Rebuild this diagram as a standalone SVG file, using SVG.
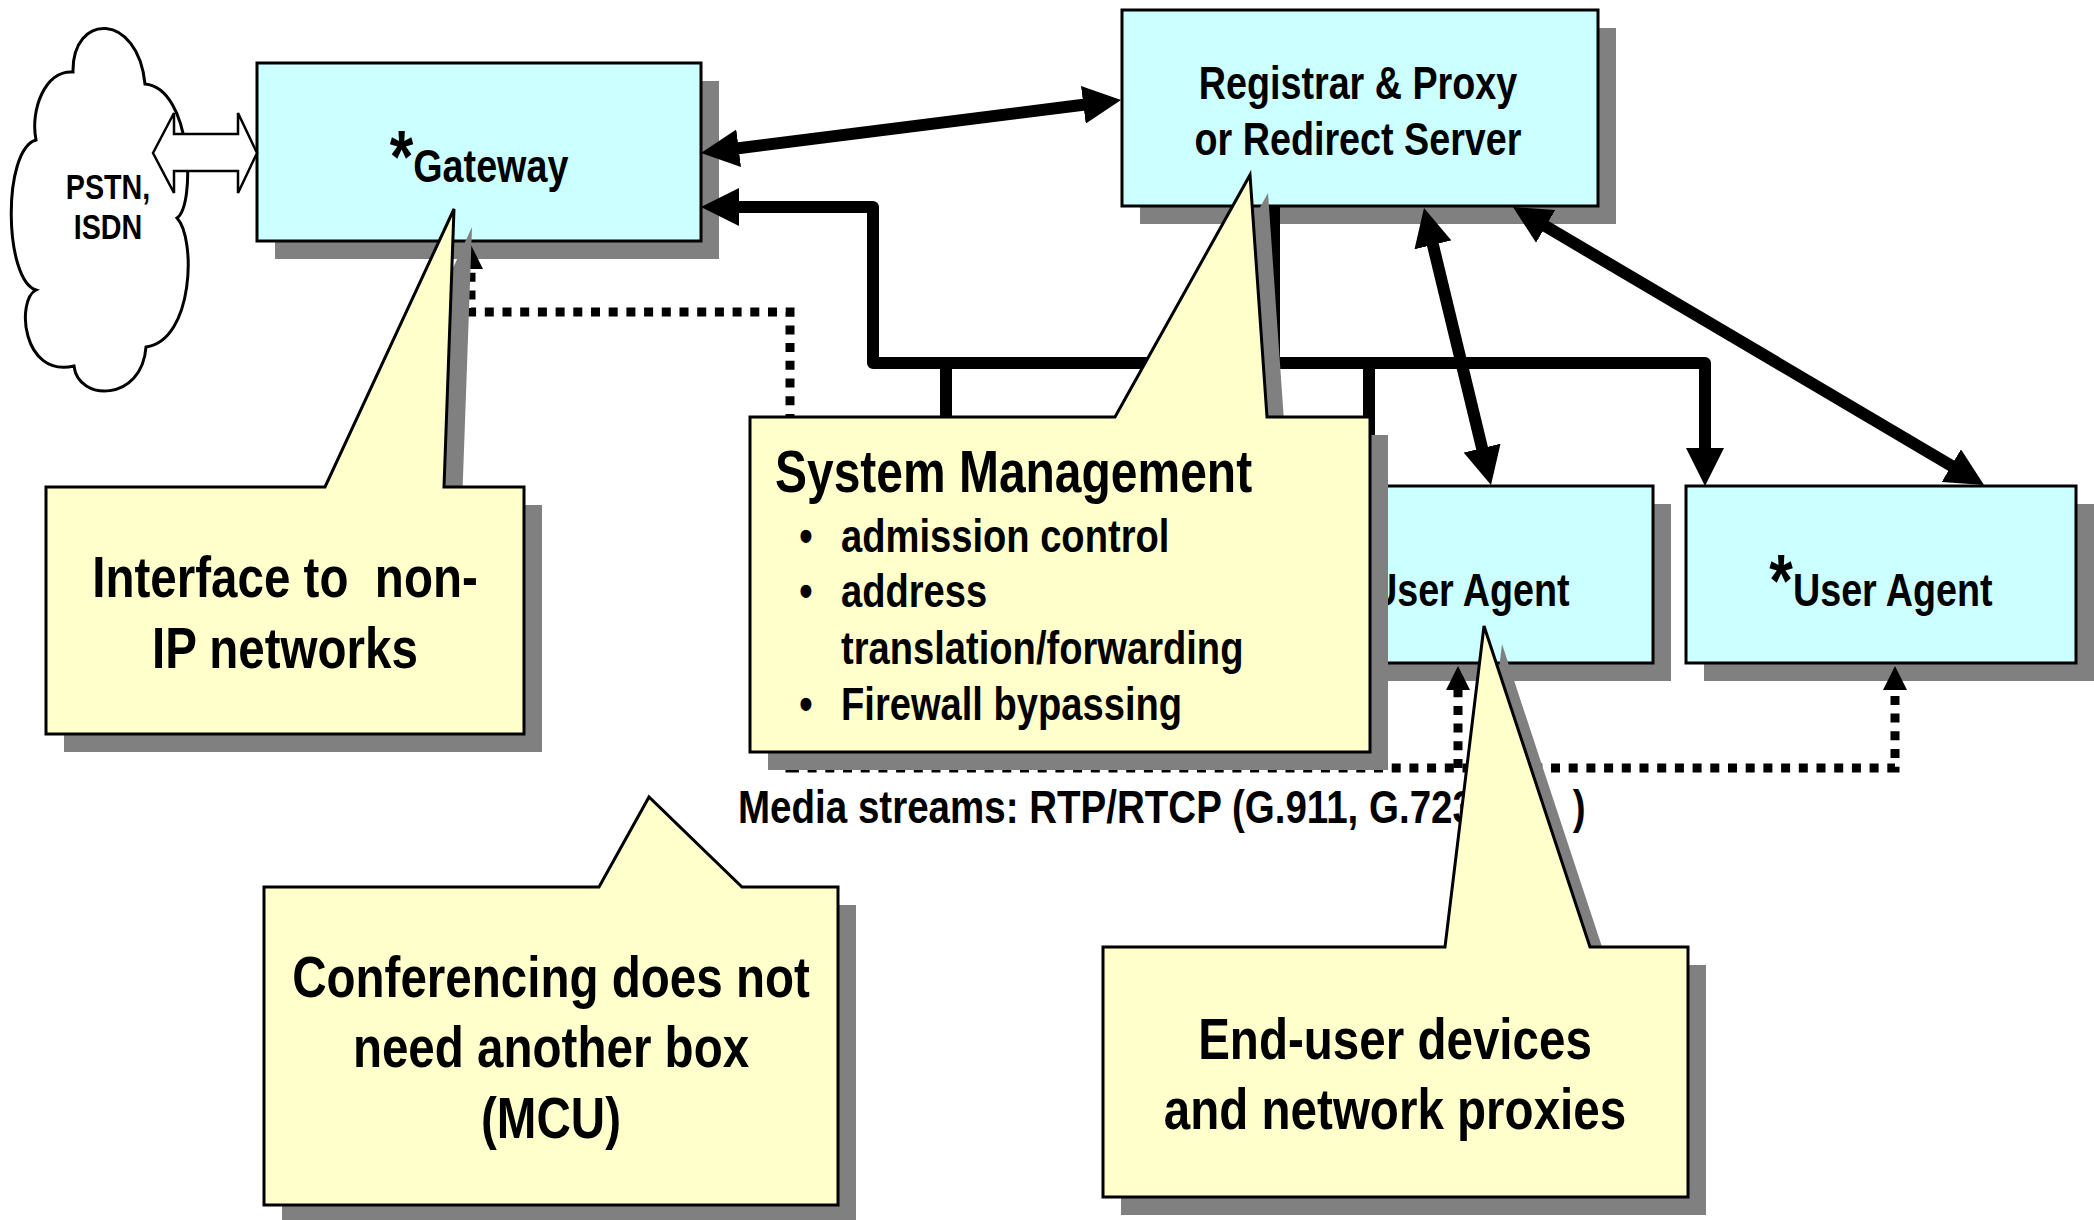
<svg xmlns="http://www.w3.org/2000/svg" xmlns:xlink="http://www.w3.org/1999/xlink" width="2094" height="1220" viewBox="0 0 2094 1220">
  <defs>
    <style>
      .box { fill: #CCFFFF; stroke: #000; stroke-width: 3; }
      .note { fill: #FFFFCC; stroke: #000; stroke-width: 3; stroke-linejoin: miter; }
      .shadow { fill: #808080; stroke: none; }
      .cloud { fill: #FFFFFF; stroke: #000; stroke-width: 3; }
      .lbl { font-family: "Liberation Sans", Arial, sans-serif; font-weight: bold; fill: #000; }
      .link { fill: none; stroke: #000; stroke-width: 12; stroke-linejoin: round; }
      .media { fill: none; stroke: #000; stroke-width: 9; stroke-dasharray: 9 8.7; }
      .hollow { fill: #FFFFFF; stroke: #000; stroke-width: 2.5; stroke-linejoin: miter; }
    </style>
    <marker id="ah" viewBox="0 0 38 38" markerUnits="userSpaceOnUse" markerWidth="38" markerHeight="38" refX="18" refY="19" orient="auto-start-reverse">
      <path d="M0,0 L38,19 L0,38 Z" fill="#000"/>
    </marker>
    <marker id="dh" viewBox="0 0 24 24" markerUnits="userSpaceOnUse" markerWidth="24" markerHeight="24" refX="14" refY="12" orient="auto-start-reverse">
      <path d="M0,0 L24,12 L0,24 Z" fill="#000"/>
    </marker>
    <!-- callout outlines: rectangle with a pointer notch in the top edge -->
    <path id="c-gw" d="M46,487 L325,487 L454,209 L444,487 L524,487 L524,734 L46,734 Z"/>
    <path id="c-sys" d="M750,417 L1115,417 L1250,175 L1267,417 L1370,417 L1370,752 L750,752 Z"/>
    <path id="c-conf" d="M264,887 L599,887 L649,797 L742,887 L838,887 L838,1205 L264,1205 Z"/>
    <path id="c-ua" d="M1103,947 L1445,947 L1484,626 L1590,947 L1688,947 L1688,1197 L1103,1197 Z"/>
  </defs>

  <rect width="2094" height="1220" fill="#FFFFFF"/>

  <!-- PSTN / ISDN cloud -->
  <g id="pstn">
    <path class="cloud" d="M73,72 C72,12 138,12 145,84 C192,88 196,205 177,218 C196,238 194,340 146,347 C142,402 78,402 74,366 C22,378 16,300 36,290 C4,280 2,150 36,140 C30,110 45,70 73,72 Z"/>
    <text class="lbl" font-size="35" text-anchor="middle" transform="translate(108 199) scale(0.82 1)">PSTN,</text>
    <text class="lbl" font-size="35" text-anchor="middle" transform="translate(108 239) scale(0.82 1)">ISDN</text>
  </g>

  <!-- Gateway -->
  <g id="gateway">
    <rect class="shadow" x="275" y="81" width="444" height="178"/>
    <rect class="box" x="257" y="63" width="444" height="178"/>
    <text class="lbl" font-size="46" text-anchor="middle" transform="translate(479 182) scale(0.82 1)"><tspan font-size="74">*</tspan>Gateway</text>
  </g>

  <!-- Registrar & Proxy / Redirect Server -->
  <g id="registrar">
    <rect class="shadow" x="1140" y="28" width="476" height="196"/>
    <rect class="box" x="1122" y="10" width="476" height="196"/>
    <text class="lbl" font-size="46" text-anchor="middle" transform="translate(1358 99) scale(0.82 1)">Registrar &amp; Proxy</text>
    <text class="lbl" font-size="46" text-anchor="middle" transform="translate(1358 155) scale(0.82 1)">or Redirect Server</text>
  </g>

  <!-- User agents -->
  <g id="user-agent-1">
    <rect class="shadow" x="1281" y="504" width="390" height="177"/>
    <rect class="box" x="1263" y="486" width="390" height="177"/>
    <text class="lbl" font-size="46" text-anchor="middle" transform="translate(1458 606) scale(0.82 1)"><tspan font-size="74">*</tspan>User Agent</text>
  </g>
  <g id="user-agent-2">
    <rect class="shadow" x="1704" y="504" width="390" height="177"/>
    <rect class="box" x="1686" y="486" width="390" height="177"/>
    <text class="lbl" font-size="46" text-anchor="middle" transform="translate(1881 606) scale(0.82 1)"><tspan font-size="74">*</tspan>User Agent</text>
  </g>

  <!-- Signalling and media connectors -->
  <g id="connectors">
    <polygon class="hollow" points="153,153 174,113 174,134 238,134 238,113 257,153 238,193 238,171 174,171 174,193"/>
    <path class="link" d="M720.8,150.5 L1101.2,102.5" marker-start="url(#ah)" marker-end="url(#ah)"/>
    <path class="link" d="M721,207 H873 V363 H1705 V466" marker-start="url(#ah)" marker-end="url(#ah)"/>
    <path class="link" d="M1274,206 V363"/>
    <path class="link" d="M946,363 V432"/>
    <path class="link" d="M1369,363 V466" marker-end="url(#ah)"/>
    <path class="link" d="M1428.7,227.4 L1486.3,465.6" marker-start="url(#ah)" marker-end="url(#ah)"/>
    <path class="link" d="M1530.2,217.2 L1966.8,474.8" marker-start="url(#ah)" marker-end="url(#ah)"/>
    <path class="media" d="M471,255 V312 H790 V768 H1895 V676" marker-start="url(#dh)" marker-end="url(#dh)"/>
    <path class="media" d="M1458,768 V676" marker-end="url(#dh)"/>
  </g>

  <text id="media-label" class="lbl" font-size="47" transform="translate(738 823) scale(0.82 1)">Media streams: RTP/RTCP (G.911, G.723, ...<tspan x="1018">)</tspan></text>

  <!-- Callout notes -->
  <g id="note-gateway">
    <use xlink:href="#c-gw" class="shadow" transform="translate(18 18)"/>
    <use xlink:href="#c-gw" class="note"/>
    <text class="lbl" font-size="58" text-anchor="middle" xml:space="preserve" transform="translate(285 597) scale(0.82 1)">Interface to  non-</text>
    <text class="lbl" font-size="58" text-anchor="middle" transform="translate(285 668) scale(0.82 1)">IP networks</text>
  </g>

  <g id="note-system">
    <use xlink:href="#c-sys" class="shadow" transform="translate(18 18)"/>
    <use xlink:href="#c-sys" class="note"/>
    <text class="lbl" font-size="58.5" transform="translate(775 492) scale(0.82 1)">System Management</text>
    <text class="lbl" font-size="46.5" text-anchor="middle" transform="translate(806 552) scale(0.82 1)">•</text>
    <text class="lbl" font-size="46.5" transform="translate(841 552) scale(0.82 1)">admission control</text>
    <text class="lbl" font-size="46.5" text-anchor="middle" transform="translate(806 607) scale(0.82 1)">•</text>
    <text class="lbl" font-size="46.5" transform="translate(841 607) scale(0.82 1)">address</text>
    <text class="lbl" font-size="46.5" transform="translate(841 664) scale(0.82 1)">translation/forwarding</text>
    <text class="lbl" font-size="46.5" text-anchor="middle" transform="translate(806 720) scale(0.82 1)">•</text>
    <text class="lbl" font-size="46.5" transform="translate(841 720) scale(0.82 1)">Firewall bypassing</text>
  </g>

  <g id="note-conference">
    <use xlink:href="#c-conf" class="shadow" transform="translate(18 18)"/>
    <use xlink:href="#c-conf" class="note"/>
    <text class="lbl" font-size="58" text-anchor="middle" transform="translate(551 997) scale(0.82 1)">Conferencing does not</text>
    <text class="lbl" font-size="58" text-anchor="middle" transform="translate(551 1067) scale(0.82 1)">need another box</text>
    <text class="lbl" font-size="58" text-anchor="middle" transform="translate(551 1138) scale(0.82 1)">(MCU)</text>
  </g>

  <g id="note-user-agent">
    <use xlink:href="#c-ua" class="shadow" transform="translate(18 18)"/>
    <use xlink:href="#c-ua" class="note"/>
    <text class="lbl" font-size="58" text-anchor="middle" transform="translate(1395 1059) scale(0.82 1)">End-user devices</text>
    <text class="lbl" font-size="58" text-anchor="middle" transform="translate(1395 1129) scale(0.82 1)">and network proxies</text>
  </g>
</svg>
